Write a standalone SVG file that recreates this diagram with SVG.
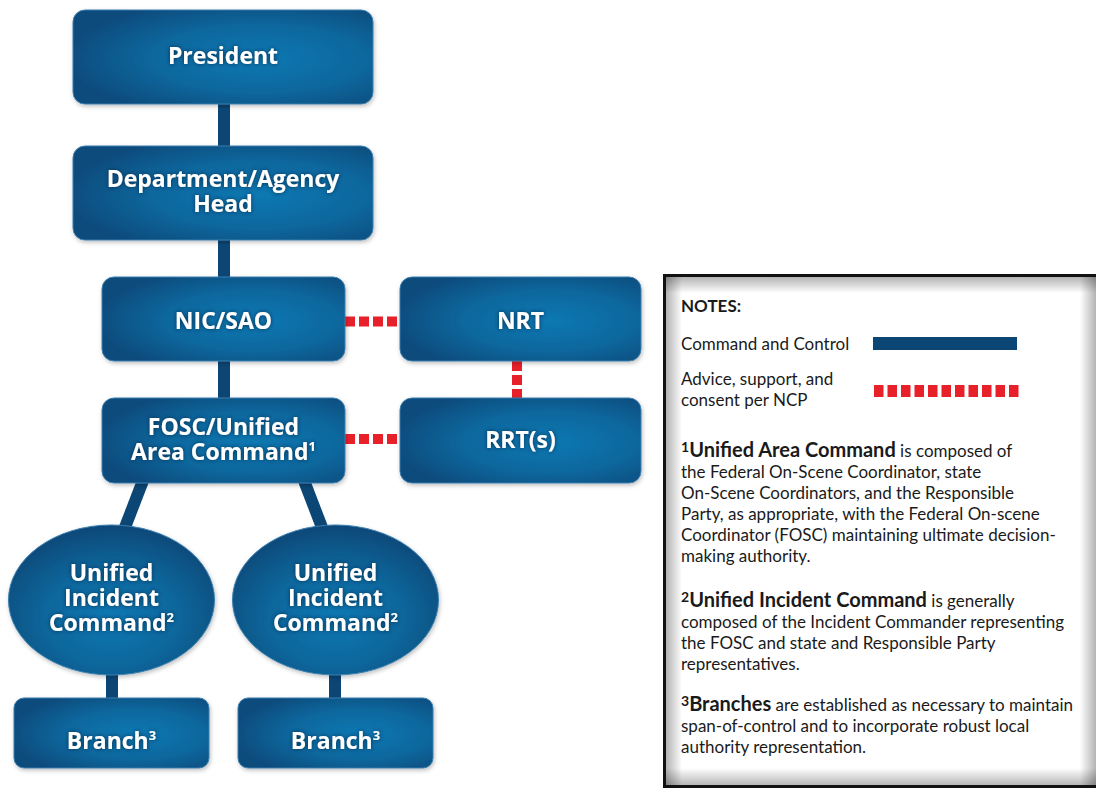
<svg xmlns="http://www.w3.org/2000/svg" width="1096" height="788" viewBox="0 0 1096 788">
<defs>
<radialGradient id="gBox" cx="62%" cy="52%" r="65%">
<stop offset="0" stop-color="#0b78b2"/>
<stop offset="0.55" stop-color="#0a679d"/>
<stop offset="1" stop-color="#0a4b7c"/>
</radialGradient>
<radialGradient id="gEll" cx="50%" cy="62%" r="60%">
<stop offset="0" stop-color="#0b78b2"/>
<stop offset="0.55" stop-color="#0a669b"/>
<stop offset="1" stop-color="#094a7a"/>
</radialGradient>
<linearGradient id="shL" x1="0" y1="0" x2="1" y2="0">
<stop offset="0" stop-color="#000" stop-opacity="0.3"/>
<stop offset="1" stop-color="#000" stop-opacity="0"/>
</linearGradient>
<linearGradient id="shR" x1="1" y1="0" x2="0" y2="0">
<stop offset="0" stop-color="#000" stop-opacity="0.3"/>
<stop offset="1" stop-color="#000" stop-opacity="0"/>
</linearGradient>
<linearGradient id="shT" x1="0" y1="0" x2="0" y2="1">
<stop offset="0" stop-color="#000" stop-opacity="0.3"/>
<stop offset="1" stop-color="#000" stop-opacity="0"/>
</linearGradient>
<linearGradient id="shB" x1="0" y1="1" x2="0" y2="0">
<stop offset="0" stop-color="#000" stop-opacity="0.3"/>
<stop offset="1" stop-color="#000" stop-opacity="0"/>
</linearGradient>
<filter id="shadow" x="-10%" y="-10%" width="120%" height="130%">
<feDropShadow dx="1" dy="2" stdDeviation="2" flood-color="#000" flood-opacity="0.25"/>
</filter>
<filter id="glow" x="-10%" y="-30%" width="120%" height="160%">
<feDropShadow dx="0" dy="0" stdDeviation="2" flood-color="#022c4c" flood-opacity="0.9"/>
</filter>
<style>
.box{fill:url(#gBox);stroke:#3d7fae;stroke-width:1;filter:url(#shadow)}
.ell{fill:url(#gEll);stroke:#3d7fae;stroke-width:1;filter:url(#shadow)}
.lbl{font-family:"Open Sans","Noto Sans",sans-serif;font-weight:700;font-size:23px;fill:#fff;text-anchor:middle;filter:url(#glow)}
.sup{font-size:13px}
.cmd{stroke:#0c4675;stroke-width:12;fill:none}
.adv{stroke:#e8202a;stroke-width:10;stroke-dasharray:10 4;fill:none}
.note{font-family:"Lato","Open Sans",sans-serif;font-size:17px;fill:#1a1a1a}
.nb{font-weight:700;font-size:20px}
.ns{font-weight:700;font-size:14px}
</style>
</defs>
<rect width="1096" height="788" fill="#fff"/>

<g id="connectors">
<line class="cmd" x1="224" y1="100" x2="224" y2="150"/>
<line class="cmd" x1="224" y1="236" x2="224" y2="281"/>
<line class="cmd" x1="224" y1="357" x2="224" y2="402"/>
<line class="cmd" x1="144" y1="478" x2="124" y2="530" stroke-width="13"/>
<line class="cmd" x1="303" y1="478" x2="323" y2="530" stroke-width="13"/>
<line class="cmd" x1="112" y1="670" x2="112" y2="702"/>
<line class="cmd" x1="335" y1="670" x2="335" y2="702"/>
<line class="adv" x1="345" y1="321.5" x2="400" y2="321.5"/>
<line class="adv" x1="345" y1="439" x2="400" y2="439"/>
<line class="adv" x1="517" y1="361" x2="517" y2="398"/>
</g>

<g id="n-president">
<rect class="box" x="73" y="10" width="300" height="94" rx="12"/>
<text class="lbl" x="223" y="64">President</text>
</g>
<g id="n-dept">
<rect class="box" x="73" y="146" width="300" height="94" rx="12"/>
<text class="lbl" x="223" y="187">Department/Agency<tspan x="223" dy="25">Head</tspan></text>
</g>
<g id="n-nic">
<rect class="box" x="102" y="277" width="243" height="84" rx="12"/>
<text class="lbl" x="223.5" y="329">NIC/SAO</text>
</g>
<g id="n-nrt">
<rect class="box" x="400" y="277" width="241" height="84" rx="12"/>
<text class="lbl" x="520.5" y="329">NRT</text>
</g>
<g id="n-fosc">
<rect class="box" x="102" y="398" width="243" height="85" rx="12"/>
<text class="lbl" x="223.5" y="435">FOSC/Unified<tspan x="223.5" dy="25">Area Command</tspan><tspan class="sup" dy="-9">1</tspan></text>
</g>
<g id="n-rrt">
<rect class="box" x="400" y="398" width="241" height="85" rx="12"/>
<text class="lbl" x="520.5" y="448">RRT(s)</text>
</g>
<g id="n-uic1">
<ellipse class="ell" cx="111.5" cy="600" rx="103" ry="75"/>
<text class="lbl" x="111.5" y="581">Unified<tspan x="111.5" dy="25">Incident</tspan><tspan x="111.5" dy="25">Command</tspan><tspan class="sup" dy="-9">2</tspan></text>
</g>
<g id="n-uic2">
<ellipse class="ell" cx="335.5" cy="600" rx="103" ry="75"/>
<text class="lbl" x="335.5" y="581">Unified<tspan x="335.5" dy="25">Incident</tspan><tspan x="335.5" dy="25">Command</tspan><tspan class="sup" dy="-9">2</tspan></text>
</g>
<g id="n-branch1">
<rect class="box" x="14" y="698" width="195" height="70" rx="10"/>
<text class="lbl" x="111.5" y="749">Branch<tspan class="sup" dy="-9">3</tspan></text>
</g>
<g id="n-branch2">
<rect class="box" x="238" y="698" width="195" height="70" rx="10"/>
<text class="lbl" x="335.5" y="749">Branch<tspan class="sup" dy="-9">3</tspan></text>
</g>

<g id="notes">
<rect x="664.5" y="275.5" width="440" height="511" fill="#fff"/>
<rect x="666" y="277" width="16" height="509" fill="url(#shL)"/>
<rect x="1080" y="277" width="16" height="509" fill="url(#shR)"/>
<rect x="666" y="277" width="430" height="16" fill="url(#shT)"/>
<rect x="666" y="768" width="430" height="18" fill="url(#shB)"/>
<rect x="664.5" y="275.5" width="440" height="511" fill="none" stroke="#111" stroke-width="3"/>
<text class="note" x="681" y="312" font-weight="700" font-size="20px">NOTES:</text>
<text class="note" x="681" y="350">Command and Control</text>
<rect x="873" y="337" width="144" height="13" fill="#0c4675"/>
<text class="note" x="681" y="385">Advice, support, and<tspan x="681" dy="21">consent per NCP</tspan></text>
<line x1="874" y1="391" x2="1021" y2="391" stroke="#e8202a" stroke-width="12" stroke-dasharray="9.5 4"/>
<text class="note" x="681" y="457"><tspan class="ns" dy="-5">1</tspan><tspan class="nb" dy="5">Unified Area Command</tspan> is composed of<tspan x="681" dy="21">the Federal On-Scene Coordinator, state</tspan><tspan x="681" dy="21">On-Scene Coordinators, and the Responsible</tspan><tspan x="681" dy="21">Party, as appropriate, with the Federal On-scene</tspan><tspan x="681" dy="21">Coordinator (FOSC) maintaining ultimate decision-</tspan><tspan x="681" dy="21">making authority.</tspan></text>
<text class="note" x="681" y="607"><tspan class="ns" dy="-5">2</tspan><tspan class="nb" dy="5">Unified Incident Command</tspan> is generally<tspan x="681" dy="21">composed of the Incident Commander representing</tspan><tspan x="681" dy="21">the FOSC and state and Responsible Party</tspan><tspan x="681" dy="21">representatives.</tspan></text>
<text class="note" x="681" y="711"><tspan class="ns" dy="-5">3</tspan><tspan class="nb" dy="5">Branches</tspan> are established as necessary to maintain<tspan x="681" dy="21">span-of-control and to incorporate robust local</tspan><tspan x="681" dy="21">authority representation.</tspan></text>
</g>
</svg>
